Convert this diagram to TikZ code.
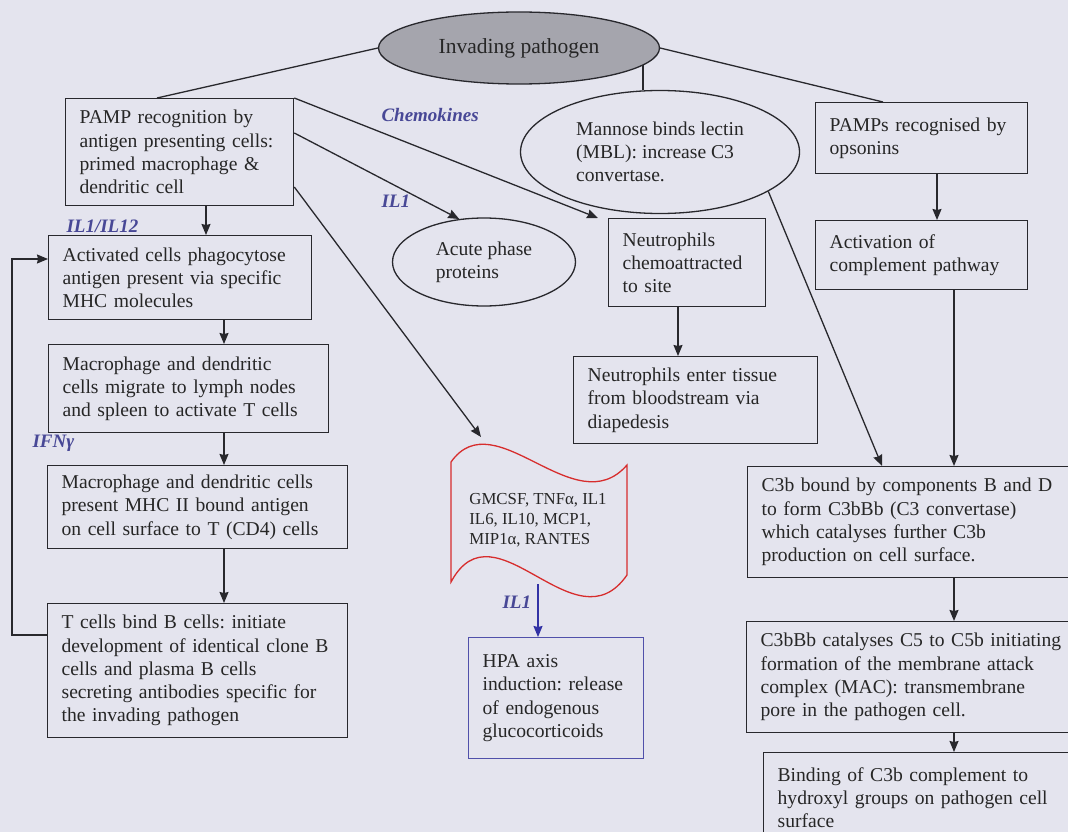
\documentclass[tikz,border=0pt]{standalone}
\usepackage{fontspec}
\setmainfont{Liberation Serif}
\usetikzlibrary{arrows.meta,shapes.geometric}
\frenchspacing

\definecolor{bgc}{RGB}{228,228,238}
\definecolor{linec}{RGB}{40,40,45}
\definecolor{labc}{RGB}{72,72,150}
\definecolor{pathfill}{RGB}{165,165,173}
\definecolor{wavec}{RGB}{215,45,45}
\definecolor{hpac}{RGB}{80,80,170}
\definecolor{arrblue}{RGB}{50,50,165}

\tikzset{
  box/.style={draw=linec, line width=1.3pt, rectangle, anchor=north west, align=left,
    inner xsep=14pt, inner ysep=0pt, text=black!85, font=\fontsize{19.6}{23.3}\selectfont},
  oval/.style={draw=linec, line width=1.3pt, ellipse, inner sep=0pt, align=left,
    text=black!85, font=\fontsize{19.6}{23.3}\selectfont},
  lab/.style={anchor=west, text=labc, font=\fontsize{19}{22}\selectfont\bfseries\itshape},
  link/.style={draw=linec, line width=1.3pt},
  arr/.style={link, -{Stealth[length=11pt,width=9pt,inset=1pt]}}
}

\begin{document}
\begin{tikzpicture}[x=1pt,y=-1pt]
\useasboundingbox (0,0) rectangle (1068,832);
\clip (0,0) rectangle (1068,832);
\fill[bgc] (0,0) rectangle (1068,832); % page

% top
\node[oval, fill=pathfill, minimum width=281pt, minimum height=72pt, font=\fontsize{21.5}{24}\selectfont] (pathogen) at (519,48) {Invading pathogen};
\node[oval, minimum width=279pt, minimum height=123pt] (mbl) at (660,152) {Mannose binds lectin\\(MBL): increase C3\\convertase.};

% left column
\node[box, text width=200pt, minimum height=107pt] (pamp) at (65,98) {PAMP recognition by\\antigen presenting cells:\\primed macrophage \&\\dendritic cell};
\node[box, text width=235pt, minimum height=84pt] (act) at (48,235) {Activated cells phagocytose\\antigen present via specific\\MHC molecules};
\node[box, text width=252pt, minimum height=88pt] (mac1) at (48,344) {Macrophage and dendritic\\cells migrate to lymph nodes\\and spleen to activate T cells};
\node[box, text width=272pt, minimum height=83pt] (mac2) at (47,465) {Macrophage and dendritic cells\\present MHC II bound antigen\\on cell surface to T (CD4) cells};
\node[box, text width=272pt, minimum height=134pt] (tcell) at (47,603) {T cells bind B cells: initiate\\development of identical clone B\\cells and plasma B cells\\secreting antibodies specific for\\the invading pathogen};

% middle
\node[oval, minimum width=183pt, minimum height=88pt] (acute) at (484,262) {Acute phase\\proteins};
\node[box, text width=129pt, minimum height=88pt] (chemo) at (608,218) {Neutrophils\\chemoattracted\\to site};
\node[box, text width=216pt, minimum height=87pt] (tissue) at (573,356) {Neutrophils enter tissue\\from bloodstream via\\diapedesis};
\node[align=left, text=black!85, font=\fontsize{16.8}{20}\selectfont] (cyto) at (538,520) {GMCSF, TNFα, IL1\\IL6, IL10, MCP1,\\MIP1α, RANTES};
\draw[wavec, line width=1.3pt] (451,462) .. controls (495,400) and (575,525) .. (627,465)
  -- (627,575) .. controls (575,650) and (495,500) .. (451,582) -- cycle; % wave
\coordinate (cytotop) at (481,437);
\coordinate (cytobot) at (538,584);
\node[box, draw=hpac, text width=147pt, minimum height=121pt] (hpa) at (468,637) {HPA axis\\induction: release\\of endogenous\\glucocorticoids};

% right column
\node[box, text width=184pt, minimum height=71pt] (opson) at (815,102) {PAMPs recognised by\\opsonins};
\node[box, text width=184pt, minimum height=69pt] (activ) at (815,220) {Activation of\\complement pathway};
\node[box, text width=312pt, minimum height=111pt] (c3b) at (747,466) {C3b bound by components B and D\\to form C3bBb (C3 convertase)\\which catalyses further C3b\\production on cell surface.};
\node[box, text width=312pt, minimum height=111pt] (c3bbb) at (746,621) {C3bBb catalyses C5 to C5b initiating\\formation of the membrane attack\\complex (MAC): transmembrane\\pore in the pathogen cell.};
\node[box, text width=302pt, minimum height=90pt] (bind) at (763,752) {Binding of C3b complement to\\hydroxyl groups on pathogen cell\\surface};

% labels
\node[lab] (lchemo) at (378,115) {Chemokines};
\node[lab] (lilone) at (378,201) {IL1};
\node[lab] (lil12) at (63,226) {IL1/IL12};
\node[lab] (lifn) at (29,443) {IFNγ};
\node[lab] (lilhpa) at (499,602) {IL1};

% column x positions
\coordinate (pampx) at (206,0);
\coordinate (colx) at (224,0);
\coordinate (neux) at (678,0);
\coordinate (oppx) at (937,0);
\coordinate (compx) at (954,0);
\coordinate (loopy) at (0,635);
\coordinate (looptop) at (0,259);

% connectors
\draw[link] (pathogen.west) -- ([xshift=92pt]pamp.north west);
\draw[link] (pathogen.east) -- ([xshift=68pt]opson.north west);
\draw[link] (pathogen.-8) -- (pathogen.-8 |- mbl.north);

\draw[arr] (pamp.south -| pampx) -- (act.north -| pampx);
\draw[arr] (act.south -| colx) -- (mac1.north -| colx);
\draw[arr] (mac1.south -| colx) -- (mac2.north -| colx);
\draw[arr] (mac2.south -| colx) -- (tcell.north -| colx);
\draw[arr] (tcell.west |- loopy) -- ++(-35,0) |- (act.west |- looptop); % feedback

\draw[arr] (pamp.north east) -- ([xshift=-10pt]chemo.north west);
\draw[arr] ([yshift=-35pt]pamp.north east) -- (acute.120);
\draw[arr] ([yshift=-89pt]pamp.north east) -- (cytotop);
\draw[arr] (chemo.south -| neux) -- (tissue.north -| neux);
\draw[arrblue, line width=1.3pt, -{Stealth[length=11pt,width=9pt,inset=1pt]}] (cytobot) -- (cytobot |- hpa.north);

\draw[arr] (opson.south -| oppx) -- (activ.north -| oppx);
\draw[arr] (activ.south -| compx) -- (c3b.north -| compx);
\draw[arr] (mbl.-20) -- ([xshift=135pt]c3b.north west);
\draw[arr] (c3b.south -| compx) -- (c3bbb.north -| compx);
\draw[arr] (c3bbb.south -| compx) -- (bind.north -| compx);
\end{tikzpicture}
\end{document}
